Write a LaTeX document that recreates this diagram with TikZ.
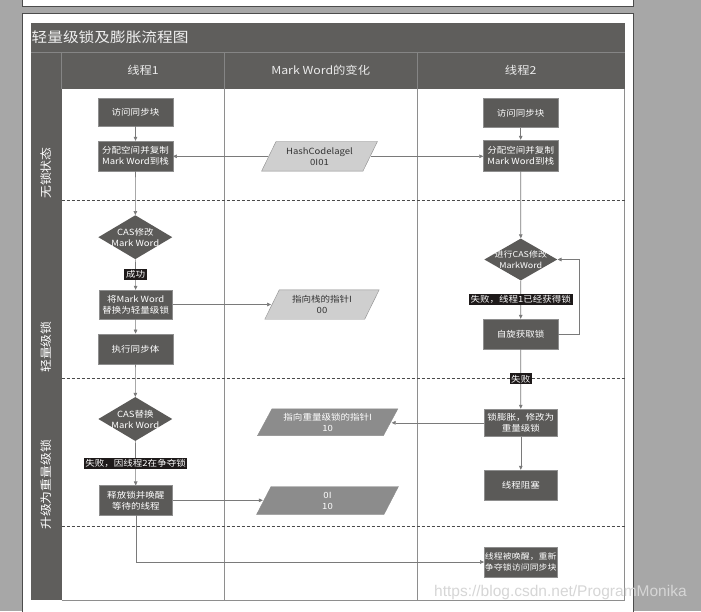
\documentclass[tikz,border=0pt]{standalone}
\usepackage{fontspec}
\setmainfont{Noto Sans CJK SC}[FakeStretch=1.12]
\newfontfamily\wmfont{Liberation Sans}
\usetikzlibrary{shapes.geometric,arrows.meta}
\definecolor{bgc}{HTML}{A7A7A7}
\definecolor{darkc}{HTML}{5F5E5C}
\definecolor{boxc}{HTML}{5B5A58}
\definecolor{lightp}{HTML}{CFCFCF}
\definecolor{darkp}{HTML}{8C8C8C}
\definecolor{linec}{HTML}{7A7A7A}
\definecolor{lblc}{HTML}{1E1A1A}
\definecolor{gridc}{HTML}{8E8E8E}
\definecolor{hgrid}{HTML}{858585}
\definecolor{dashc}{HTML}{4A4A4A}
\definecolor{wmc}{HTML}{D6D6D6}
\pgfdeclarelayer{bglayer}
\pgfdeclarelayer{paralayer}
\pgfsetlayers{bglayer,paralayer,main}
\newcommand\drawpara[2]{%
  \begin{pgfonlayer}{paralayer}
  \filldraw[fill=#2, draw=gridc, line width=0.4pt]
    ([xshift=-7.25pt]#1.south west) -- ([xshift=-7.25pt]#1.south east)
    -- ([xshift=7.25pt]#1.north east) -- ([xshift=7.25pt]#1.north west) -- cycle;
  \end{pgfonlayer}}
\begin{document}
\begin{tikzpicture}[x=1pt,y=-1pt,
  box/.style={draw=gridc, line width=0.4pt, fill=boxc, text=white,
    font=\fontsize{8.5}{11}\selectfont, align=center, inner sep=0pt,
    minimum width=74.5pt, minimum height=29.5pt},
  dia/.style={diamond, fill=boxc, inner sep=0pt, minimum width=74pt, minimum height=44pt},
  dtext/.style={text=white, font=\fontsize{8.5}{11}\selectfont, align=center, inner sep=0pt},
  pnode/.style={rectangle, inner sep=0pt, align=center, font=\fontsize{8.5}{11}\selectfont},
  lpnode/.style={pnode, text=black!80},
  dpnode/.style={pnode, text=white},
  lbl/.style={fill=lblc, text=white, inner sep=1.6pt, font=\fontsize{8.5}{10}\selectfont},
  arr/.style={draw=linec, line width=0.6pt, -{Triangle[length=4pt,width=3.6pt]}},
  lane/.style={rotate=90, anchor=west, text=white, font=\fontsize{11.5}{13}\selectfont, inner sep=0pt},
  head/.style={text=white!92!black, font=\fontsize{11}{13}\selectfont},
]
% background
\useasboundingbox (0,0) rectangle (701,611);
\begin{pgfonlayer}{bglayer}
\fill[bgc] (0,0) rectangle (701,611);
\fill[white] (22,-2) rectangle (633.5,6.5);
\draw[black!70, line width=0.6pt] (22,-2) -- (22,6.5) -- (633.5,6.5) -- (633.5,-2);
\fill[white] (22,13.3) rectangle (633.5,615);
\draw[black!70, line width=0.6pt] (22,615) -- (22,13.3) -- (633.5,13.3) -- (633.5,615);
\end{pgfonlayer}

% title bar and header row
\fill[darkc] (31.3,22.7) rectangle (624.5,89.3);
\fill[darkc] (31.3,22.7) rectangle (61.7,600);
\draw[hgrid, line width=0.7pt] (31.3,52.2) -- (624.5,52.2);
\draw[hgrid, line width=0.7pt] (61.7,52.2) -- (61.7,89.3);
\draw[hgrid, line width=0.7pt] (224.4,52.2) -- (224.4,89.3);
\draw[hgrid, line width=0.7pt] (417,52.2) -- (417,89.3);
\node[anchor=west, text=white!94!black, font=\fontsize{14}{16}\selectfont, inner sep=0pt] (title) at (31.5,37) {轻量级锁及膨胀流程图};
\node[head] (h1) at (143,70.5) {线程1};
\node[head] (h2) at (320.7,70.5) {Mark Word的变化};
\node[head] (h3) at (520.7,70.5) {线程2};

% body grid
\draw[gridc, line width=0.5pt] (224.4,89.3) -- (224.4,600);
\draw[gridc, line width=0.5pt] (417,89.3) -- (417,600);
\draw[gridc, line width=0.6pt] (61.7,600) -- (624.5,600) -- (624.5,89.3);
\foreach \yy in {200.7,378.3,526.5}
  \draw[dashc, line width=1.3pt, dash pattern=on 3pt off 2pt] (61.7,\yy) -- (624.5,\yy);

% lane labels
\node[lane] (s1) at (46.5,199) {无锁状态};
\node[lane] (s2) at (46.5,373) {轻量级锁};
\node[lane] (s3) at (46.5,530) {升级为重量级锁};

% thread 1
\node[box, minimum height=28pt] (a1) at (135.5,112) {访问同步块};
\node[box, minimum height=30pt] (a2) at (135.5,156) {分配空间并复制\\Mark Word到栈};
\node[dia] (d1) at (135.3,237.2) {};
\node[dtext] (d1t) at (d1.center) {CAS修改\\Mark Word};
\node[box, minimum height=29pt, minimum width=73.5pt] (a3) at (135.7,304.5) {将Mark Word\\替换为轻量级锁};
\node[box, minimum height=30.3pt] (a4) at (135.5,349) {执行同步体};
\node[dia] (d3) at (135.3,419) {};
\node[dtext] (d3t) at (d3.center) {CAS替换\\Mark Word};
\node[box, minimum height=29.3pt, minimum width=73.7pt] (a5) at (135.8,500.3) {释放锁并唤醒\\等待的线程};

% mark word column (parallelograms)
\node[lpnode, minimum width=101pt, minimum height=29.3pt] (hc) at (319.5,156.3) {HashCodelagel\\0I01};
\drawpara{hc}{lightp}
\node[lpnode, minimum width=99.5pt, minimum height=29pt] (p2) at (322,304.5) {指向栈的指针I\\00};
\drawpara{p2}{lightp}
\node[dpnode, minimum width=125.5pt, minimum height=26.5pt] (p3) at (327.7,422.2) {指向重量级锁的指针I\\10};
\drawpara{p3}{darkp}
\node[dpnode, minimum width=127pt, minimum height=27.6pt] (p4) at (327.5,500.5) {0I\\10};
\drawpara{p4}{darkp}

% thread 2
\node[box, minimum height=29pt] (b1) at (520.7,113) {访问同步块};
\node[box, minimum height=31pt] (b2) at (520.7,155.5) {分配空间并复制\\Mark Word到栈};
\node[dia, minimum width=73pt, minimum height=42pt] (d2) at (520.8,259.5) {};
\node[dtext, font=\fontsize{8}{10.5}\selectfont] (d2t) at (d2.center) {进行CAS修改\\MarkWord};
\node[box, minimum height=30pt] (b3) at (520.7,334) {自旋获取锁};
\node[box, minimum height=27.7pt, minimum width=73pt] (b4) at (520.8,422.8) {锁膨胀，修改为\\重量级锁};
\node[box, minimum height=30pt, minimum width=73pt] (b5) at (520.8,485) {线程阻塞};
\node[box, minimum height=29.4pt, minimum width=73pt, font=\fontsize{8}{10.5}\selectfont] (b6) at (520.8,562) {线程被唤醒，重新\\争夺锁访问同步块};

% connectors thread 1
\draw[arr] (a1) -- (a2);
\draw[arr] (a2) -- (d1);
\draw[arr] (d1) -- node[lbl] (l1) {成功} (a3);
\draw[arr] (a3) -- (a4);
\draw[arr] (a4) -- (d3);
\draw[arr] (d3) -- node[lbl] (l4) {失败，因线程2在争夺锁} (a5);
\draw[arr] (a5.south) |- (b6.west);

% connectors to mark word
\draw[arr] ([xshift=-1pt]hc.west) -- (hc.west -| a2.east);
\draw[arr] ([xshift=1pt]hc.east) -- (hc.east -| b2.west);
\draw[arr] (a3.east) -- ([xshift=-1pt]a3.east -| p2.west);
\draw[arr] (b4.west) -- ([xshift=1pt]b4.west -| p3.east);
\draw[arr] (a5.east) -- ([xshift=-1pt]a5.east -| p4.west);

% connectors thread 2
\draw[arr] (b1) -- (b2);
\draw[arr] (b2) -- (d2);
\draw[arr] (d2) -- node[lbl] (l2) {失败，线程1已经获得锁} (b3);
\draw[arr] (b3.east) -- ++(21.5,0) |- (d2.east);
\draw[arr] (b3) -- node[lbl] (l3) {失败} (b4);
\draw[arr] (b4) -- (b5);

% watermark
\node[anchor=base west, text=wmc, font=\wmfont\fontsize{15.5}{17}\selectfont, inner sep=0pt] (wm) at (434,596) {https://blog.csdn.net/ProgramMonika};
\end{tikzpicture}
\end{document}
